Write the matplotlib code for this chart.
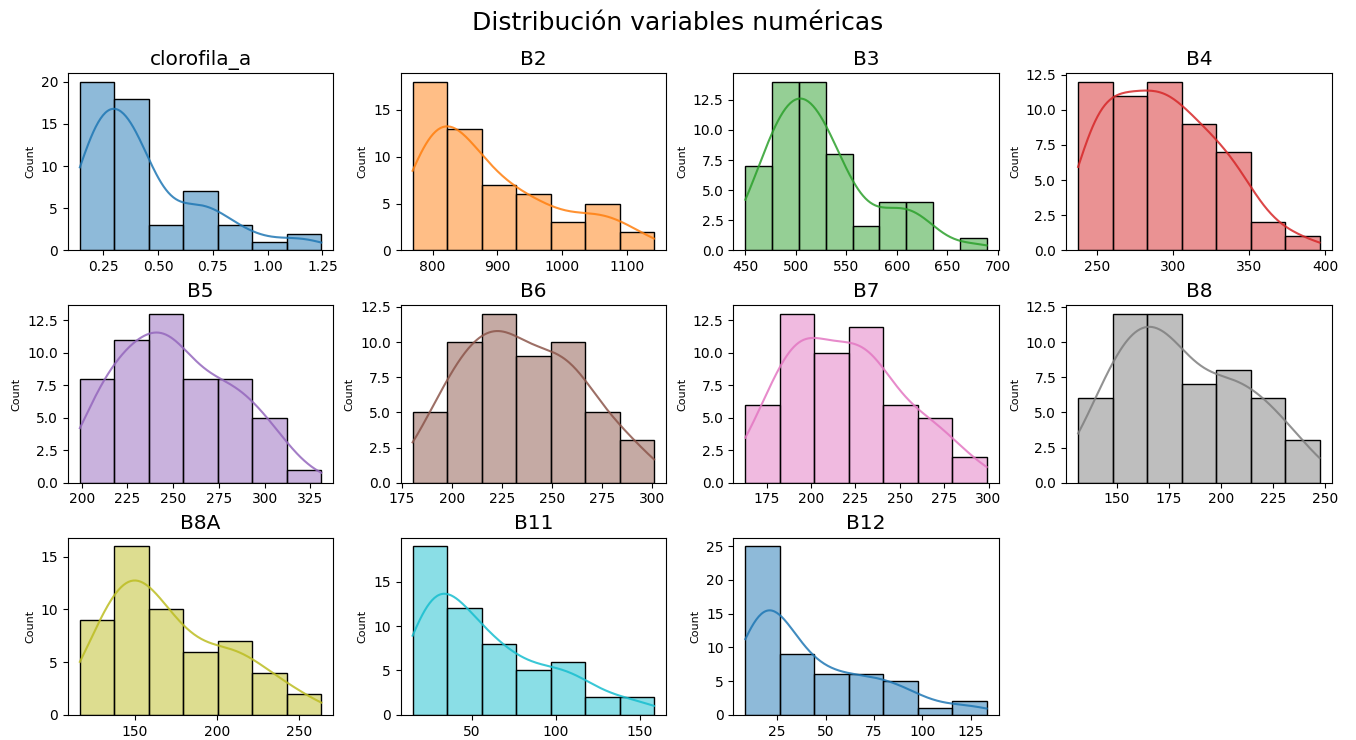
import numpy as np
import pandas as pd
import matplotlib
matplotlib.use('Agg')
import matplotlib.pyplot as plt
import seaborn as sns

# conteos por bin de cada variable (n = 54)
variables = ['clorofila_a', 'B2', 'B3', 'B4', 'B5', 'B6', 'B7', 'B8', 'B8A', 'B11', 'B12']
rangos = [(0.143, 1.245), (769, 1142), (450, 689), (237.7, 396.3), (199, 331),
          (180.3, 301), (163, 299), (131.3, 247.3), (116.5, 263.6), (14.6, 158.3), (8.6, 133.3)]
conteos = [
    [20, 18, 3, 7, 3, 1, 2],
    [18, 13, 7, 6, 3, 5, 2],
    [7, 14, 14, 8, 2, 4, 4, 0, 1],
    [12, 11, 12, 9, 7, 2, 1],
    [8, 11, 13, 8, 8, 5, 1],
    [5, 10, 12, 9, 10, 5, 3],
    [6, 13, 10, 12, 6, 5, 2],
    [6, 12, 12, 7, 8, 6, 3],
    [9, 16, 10, 6, 7, 4, 2],
    [19, 12, 8, 5, 6, 2, 2],
    [25, 9, 6, 6, 5, 1, 2],
]

colores = plt.rcParams['axes.prop_cycle'].by_key()['color']


def kde_pesos(centros, pesos, grid):
    # gaussian kde ponderado con factor de Scott
    n = pesos.sum()
    media = np.average(centros, weights=pesos)
    std = np.sqrt(np.average((centros - media) ** 2, weights=pesos))
    bw = std * n ** (-1 / 5)
    dens = np.zeros_like(grid)
    for c, w in zip(centros, pesos):
        dens += w * np.exp(-0.5 * ((grid - c) / bw) ** 2)
    return dens / (n * bw * np.sqrt(2 * np.pi))


fig, axes = plt.subplots(3, 4, figsize=(13.56, 7.4), dpi=100)
fig.subplots_adjust(left=0.05, right=0.982, top=0.901, bottom=0.034,
                    wspace=0.253, hspace=0.31)
fig.suptitle('Distribución variables numéricas', fontsize=18, y=0.985)

for i, (var, (lo, hi), cnt) in enumerate(zip(variables, rangos, conteos)):
    ax = axes.flat[i]
    cnt = np.array(cnt, dtype=float)
    bordes = np.linspace(lo, hi, len(cnt) + 1)
    centros = (bordes[:-1] + bordes[1:]) / 2
    df = pd.DataFrame({var: centros, 'n': cnt})
    color = colores[i % 10]
    sns.histplot(data=df, x=var, weights='n', bins=len(cnt), binrange=(lo, hi),
                 color=color, alpha=0.5, ax=ax)
    grid = np.linspace(lo, hi, 200)
    ancho = bordes[1] - bordes[0]
    ax.plot(grid, kde_pesos(centros, cnt, grid) * cnt.sum() * ancho, color=color,
            lw=1.5, alpha=0.85)
    ax.set_title(var, fontsize=14.5)
    ax.set_ylabel('Count', fontsize=8)
    ax.set_xlabel('')
    ax.tick_params(labelsize=10)

axes.flat[-1].axis('off')

plt.savefig('out.png')
